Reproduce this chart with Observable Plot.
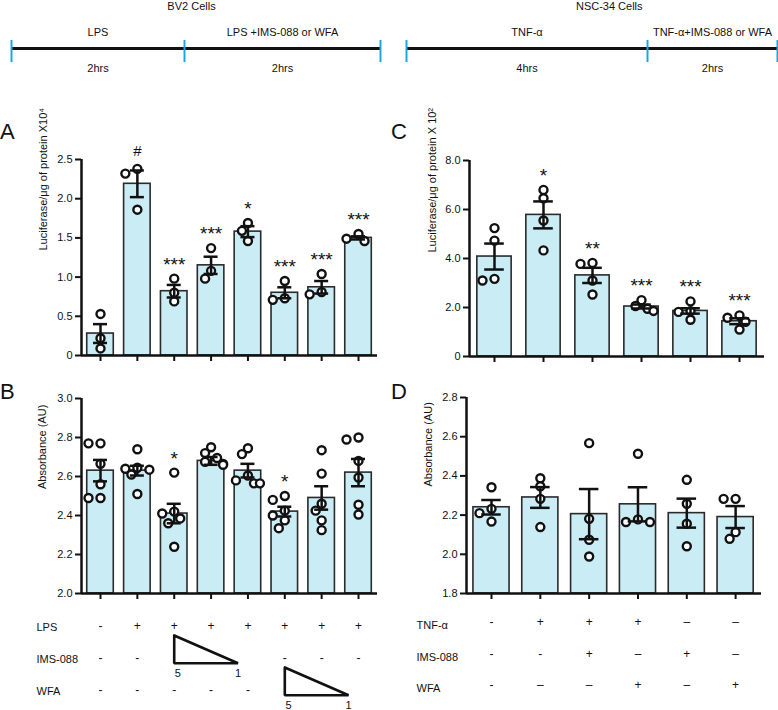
<!DOCTYPE html>
<html><head><meta charset="utf-8">
<script src="https://cdn.jsdelivr.net/npm/d3@7"></script>
<script src="https://cdn.jsdelivr.net/npm/@observablehq/plot@0.6"></script>
<style>
body{margin:0;background:#fff;font-family:"Liberation Sans",Arial,sans-serif;}
#fig{position:relative;width:778px;height:710px;overflow:hidden;background:#fff;}
.pos{position:absolute;}
.letter{position:absolute;font-size:22px;line-height:1;color:#111;font-family:"Liberation Sans",Arial,sans-serif;}
</style></head><body><div id="fig"></div>
<script>
// ---------- timelines ----------
const bv2Title = "BV2 Cells";
const bv2Phases = ["LPS", "LPS +IMS-088 or WFA"];
const bv2Hours = [2, 2];
const bv2Durations = ["2hrs", "2hrs"];
const nscTitle = "NSC-34 Cells";
const nscPhases = ["TNF-α", "TNF-α+IMS-088 or WFA"];
const nscHours = [4, 2];
const nscDurations = ["4hrs", "2hrs"];

// ---------- Panel A: BV2 luciferase (x10^4) ----------
const meanA = [0.28, 2.19, 0.82, 1.15, 1.58, 0.80, 0.87, 1.50];
const semA  = [0.12, 0.17, 0.08, 0.11, 0.07, 0.07, 0.08, 0.02];
const pointsA = [[0.53, 0.22, 0.09], [2.38, 2.32, 1.86], [0.98, 0.80, 0.69], [1.37, 1.08, 0.98],
                 [1.69, 1.59, 1.46], [0.95, 0.73, 0.71], [1.04, 0.81, 0.78], [1.55, 1.49, 1.46]];
const sigA = ["", "#", "***", "***", "*", "***", "***", "***"];
const yTicksA = [0, 0.5, 1.0, 1.5, 2.0, 2.5];
const yTickLabelsA = ["0", "0.5", "1.0", "1.5", "2.0", "2.5"];

// ---------- Panel B: BV2 absorbance ----------
const meanB = [2.63, 2.63, 2.41, 2.68, 2.63, 2.42, 2.49, 2.62];
const semB  = [0.055, 0.025, 0.05, 0.02, 0.035, 0.025, 0.06, 0.07];
const pointsB = [[2.77, 2.77, 2.665, 2.56, 2.49, 2.49], [2.74, 2.645, 2.64, 2.635, 2.61, 2.51],
                 [2.62, 2.42, 2.41, 2.385, 2.36, 2.24], [2.75, 2.72, 2.695, 2.675, 2.665, 2.66],
                 [2.745, 2.715, 2.605, 2.58, 2.565, 2.565], [2.50, 2.48, 2.425, 2.40, 2.375, 2.335],
                 [2.735, 2.615, 2.46, 2.425, 2.375, 2.325], [2.80, 2.79, 2.68, 2.595, 2.455, 2.405]];
const sigB = ["", "", "*", "", "", "*", "", ""];
const yTicksB = [2.0, 2.2, 2.4, 2.6, 2.8, 3.0];
const yTickLabelsB = ["2.0", "2.2", "2.4", "2.6", "2.8", "3.0"];

// ---------- Panel C: NSC-34 luciferase (x10^2) ----------
const meanC = [4.08, 5.78, 3.31, 2.04, 1.86, 1.44];
const semC  = [0.53, 0.55, 0.31, 0.08, 0.11, 0.12];
const pointsC = [[5.24, 4.73, 3.17, 3.10], [6.80, 6.46, 5.55, 4.33], [3.82, 3.78, 3.10, 2.53],
                 [2.30, 2.06, 1.95, 1.86], [2.25, 1.85, 1.82, 1.50], [1.68, 1.58, 1.42, 1.10]];
const sigC = ["", "*", "**", "***", "***", "***"];
const yTicksC = [0, 2, 4, 6, 8];
const yTickLabelsC = ["0", "2.0", "4.0", "6.0", "8.0"];

// ---------- Panel D: NSC-34 absorbance ----------
const meanD = [2.24, 2.29, 2.205, 2.255, 2.21, 2.19];
const semD  = [0.037, 0.053, 0.128, 0.087, 0.074, 0.056];
const pointsD = [[2.342, 2.232, 2.21, 2.167], [2.388, 2.347, 2.283, 2.139], [2.567, 2.181, 2.074, 1.989],
                 [2.513, 2.178, 2.165, 2.165], [2.38, 2.258, 2.156, 2.041], [2.283, 2.283, 2.113, 2.079]];
const sigD = ["", "", "", "", "", ""];
const yTicksD = [1.8, 2.0, 2.2, 2.4, 2.6, 2.8];
const yTickLabelsD = ["1.8", "2.0", "2.2", "2.4", "2.6", "2.8"];

// ---------- treatment tables ----------
const tableRowsB = ["LPS", "IMS-088", "WFA"];
const lpsB = ["-", "+", "+", "+", "+", "+", "+", "+"];
const imsB = ["-", "-", "", "", "", "-", "-", "-"];
const wfaB = ["-", "-", "-", "-", "-", "", "", ""];
const doseEnds = ["5", "1"];
const imsDoseColsB = [3, 5];
const wfaDoseColsB = [6, 8];

const tableRowsD = ["TNF-α", "IMS-088", "WFA"];
const tnfD = ["-", "+", "+", "+", "–", "–"];
const imsD = ["-", "-", "+", "–", "+", "–"];
const wfaD = ["-", "–", "–", "+", "–", "+"];

const yTitleLuc4 = "Luciferase/μg of protein X10⁴";
const yTitleLuc2 = "Luciferase/μg of protein X 10²";
const yTitleAbs = "Absorbance (AU)";

// ---------- styling ----------
const FONT = "Liberation Sans, Arial, Helvetica, sans-serif";
const BAR_FILL = "#c9ecf5";
const INK = "#111";
const fig = document.getElementById("fig");

function place(svg, left, top) {
  const wrap = document.createElement("div");
  wrap.className = "pos";
  wrap.style.left = left + "px";
  wrap.style.top = top + "px";
  wrap.appendChild(svg);
  fig.appendChild(wrap);
}
function letter(t, left, top) {
  const d = document.createElement("div");
  d.className = "letter";
  d.textContent = t;
  d.style.left = left + "px";
  d.style.top = top + "px";
  fig.appendChild(d);
}
const baseStyle = {background: "transparent", overflow: "visible", fontFamily: FONT, fontSize: "11px", color: INK, maxWidth: "none"};

// simple scatter-dodge so circles with similar values sit side by side
function dodgeOffsets(vals, yPx) {
  const order = vals.map((v, k) => k).sort((a, b) => vals[b] - vals[a]);
  const placed = [], offs = new Array(vals.length);
  const cands = [0, -6, 6, -12, 12];
  for (const k of order) {
    const y = -vals[k] * yPx;
    let chosen = cands[cands.length - 1];
    for (const c of cands) {
      if (placed.every(p => Math.hypot(p.x - c, p.y - y) >= 8)) { chosen = c; break; }
    }
    placed.push({x: chosen, y});
    offs[k] = chosen;
  }
  return offs;
}

function barPanel(cfg) {
  const {means, sems, points, sig, yDomain, yTicks, yTickLabels, yTitle, xLo, xHi,
         left, top, width, height, mTop, mBottom, mLeft, mRight, barHalf, capHalf, titleDx, titleDy} = cfg;
  const rows = means.map((m, i) => ({i: i + 1, mean: m, sem: sems[i], sig: sig[i],
                                     top: Math.max(m + sems[i], ...points[i])}));
  const yPx = (height - mTop - mBottom) / (yDomain[1] - yDomain[0]);
  const xPx = (width - mLeft - mRight) / (xHi - xLo);
  const pts = [];
  points.forEach((vals, gi) => {
    const offs = dodgeOffsets(vals, yPx);
    vals.forEach((v, k) => pts.push({i: gi + 1, v, off: offs[k] / xPx}));
  });
  const labelMap = new Map(yTicks.map((t, k) => [t, yTickLabels[k]]));
  const stars = rows.filter(d => d.sig && d.sig !== "#");
  const hashes = rows.filter(d => d.sig === "#");
  const svg = Plot.plot({
    width, height, marginTop: mTop, marginBottom: mBottom, marginLeft: mLeft, marginRight: mRight,
    x: {domain: [xLo, xHi]},
    y: {domain: yDomain},
    style: baseStyle,
    marks: [
      Plot.rectY(rows, {x1: d => d.i - barHalf, x2: d => d.i + barHalf, y1: yDomain[0], y2: "mean",
                        fill: BAR_FILL, stroke: "#2a2a2a", strokeWidth: 1.6}),
      Plot.dot(pts, {x: d => d.i + d.off, y: "v", r: 4, fill: "white", stroke: INK, strokeWidth: 2.4}),
      Plot.ruleX(rows, {x: "i", y1: d => d.mean - d.sem, y2: d => d.mean + d.sem, stroke: INK, strokeWidth: 2.5}),
      Plot.ruleY(rows, {y: d => d.mean + d.sem, x1: d => d.i - capHalf, x2: d => d.i + capHalf, stroke: INK, strokeWidth: 2.5}),
      Plot.ruleY(rows, {y: d => d.mean - d.sem, x1: d => d.i - capHalf, x2: d => d.i + capHalf, stroke: INK, strokeWidth: 2.5}),
      Plot.text(stars, {x: "i", y: "top", text: "sig", dy: -14, fontSize: 19, fill: INK}),
      Plot.text(hashes, {x: "i", y: "top", text: "sig", dy: -18, fontSize: 15, fill: INK}),
      Plot.ruleX([xLo], {stroke: INK, strokeWidth: 2.5}),
      Plot.ruleY([yDomain[0]], {stroke: INK, strokeWidth: 2.5}),
      Plot.axisY({ticks: yTicks, tickFormat: d => labelMap.get(d), tickSize: 6, tickPadding: 3,
                  stroke: INK, strokeWidth: 2, fill: INK, label: null, fontSize: 11}),
      Plot.axisX({ticks: rows.map(d => d.i), tickFormat: () => "", tickSize: 6, tickPadding: 0,
                  stroke: INK, strokeWidth: 2, label: null}),
      Plot.text([yTitle], {text: d => d, frameAnchor: "left", rotate: -90, dx: titleDx, dy: titleDy,
                           fontSize: 11, fill: INK})
    ]
  });
  place(svg, left, top);
}

function tablePlot(cfg) {
  const {left, top, width, height, mLeft, mRight, xLo, xHi, rowNames, rowValues, rowRange,
         labelX, labelDy, triangles} = cfg;
  const cells = [];
  rowValues.forEach((vals, r) => vals.forEach((v, c) => { if (v) cells.push({r, c: c + 1, v}); }));
  const triPts = [], triLabels = [];
  (triangles || []).forEach((t, k) => {
    const x0 = t.cols[0], x1 = t.cols[1] - 0.27, yT = t.row - 0.72, yB = t.row + 0.15;
    triPts.push({id: k, x: x0, y: yT}, {id: k, x: x0, y: yB}, {id: k, x: x1, y: yB}, {id: k, x: x0, y: yT});
    triLabels.push({x: x0 + 0.1, y: t.row + 0.48, t: t.labels[0]}, {x: x1, y: t.row + 0.48, t: t.labels[1]});
  });
  const svg = Plot.plot({
    width, height, marginLeft: mLeft, marginRight: mRight, marginTop: 0, marginBottom: 0,
    x: {domain: [xLo, xHi], axis: null},
    y: {domain: [0, rowNames.length - 1], range: rowRange, axis: null},
    style: baseStyle,
    marks: [
      Plot.text(cells, {x: "c", y: "r", text: "v", fontSize: 12, fill: INK}),
      Plot.text(rowNames, {x: xLo, y: (d, i) => i, text: d => d, textAnchor: "start",
                           dx: labelX - mLeft, dy: labelDy, fontSize: 11, fill: INK}),
      Plot.line(triPts, {x: "x", y: "y", z: "id", stroke: INK, strokeWidth: 2.6, strokeLinejoin: "miter"}),
      Plot.text(triLabels, {x: "x", y: "y", text: "t", fontSize: 11, fill: INK})
    ]
  });
  place(svg, left, top);
}

function timeline(cfg) {
  const {left, width, range, title, titleDx, phases, hours, durations} = cfg;
  const bounds = [0];
  hours.forEach(h => bounds.push(bounds[bounds.length - 1] + h));
  const mids = hours.map((h, i) => bounds[i] + h / 2);
  const svg = Plot.plot({
    width, height: 80, margin: 0,
    x: {type: "linear", domain: bounds, range, axis: null},
    y: {type: "identity", axis: null},
    style: baseStyle,
    marks: [
      Plot.ruleY([48], {x1: bounds[0], x2: bounds[bounds.length - 1], stroke: INK, strokeWidth: 3}),
      Plot.ruleX(bounds, {y1: 40, y2: 62, stroke: "#1ca6e0", strokeWidth: 2}),
      Plot.text(phases, {x: (d, i) => mids[i], y: 32, text: d => d, fontSize: 11, fill: INK}),
      Plot.text(durations, {x: (d, i) => mids[i], y: 68, text: d => d, fontSize: 11, fill: INK}),
      Plot.text([title], {x: (bounds[0] + bounds[bounds.length - 1]) / 2, y: 6, dx: titleDx, text: d => d,
                          fontSize: 11, fill: INK})
    ]
  });
  place(svg, left, 0);
}

// ---------- build ----------
timeline({left: 0, width: 389, range: [11, 184, 380], title: bv2Title, titleDx: 7,
          phases: bv2Phases, hours: bv2Hours, durations: bv2Durations});
timeline({left: 389, width: 389, range: [17, 258, 388], title: nscTitle, titleDx: 22,
          phases: nscPhases, hours: nscHours, durations: nscDurations});

barPanel({means: meanA, sems: semA, points: pointsA, sig: sigA, yDomain: [0, 2.5], yTicks: yTicksA,
          yTickLabels: yTickLabelsA, yTitle: yTitleLuc4, xLo: 0.4845, xHi: 8.515,
          left: 0, top: 120, width: 389, height: 250, mTop: 39, mBottom: 15, mLeft: 81, mRight: 12,
          barHalf: 0.36, capHalf: 0.19, titleDx: -38, titleDy: -7});
barPanel({means: meanB, sems: semB, points: pointsB, sig: sigB, yDomain: [2.0, 3.0], yTicks: yTicksB,
          yTickLabels: yTickLabelsB, yTitle: yTitleAbs, xLo: 0.4845, xHi: 8.515,
          left: 0, top: 370, width: 389, height: 240, mTop: 28, mBottom: 17, mLeft: 81, mRight: 12,
          barHalf: 0.36, capHalf: 0.19, titleDx: -39, titleDy: -7});
barPanel({means: meanC, sems: semC, points: pointsC, sig: sigC, yDomain: [0, 8], yTicks: yTicksC,
          yTickLabels: yTickLabelsC, yTitle: yTitleLuc2, xLo: 0.49, xHi: 6.51,
          left: 389, top: 120, width: 389, height: 250, mTop: 40, mBottom: 14, mLeft: 80, mRight: 14,
          barHalf: 0.35, capHalf: 0.2, titleDx: -37, titleDy: -6});
barPanel({means: meanD, sems: semD, points: pointsD, sig: sigD, yDomain: [1.8, 2.8], yTicks: yTicksD,
          yTickLabels: yTickLabelsD, yTitle: yTitleAbs, xLo: 0.488, xHi: 6.53,
          left: 389, top: 370, width: 389, height: 240, mTop: 27, mBottom: 17, mLeft: 77, mRight: 17,
          barHalf: 0.37, capHalf: 0.2, titleDx: -38, titleDy: -9});

tablePlot({left: 0, top: 600, width: 389, height: 110, mLeft: 81, mRight: 12, xLo: 0.4845, xHi: 8.515,
           rowNames: tableRowsB, rowValues: [lpsB, imsB, wfaB], rowRange: [26, 90], labelX: 36, labelDy: 1,
           triangles: [{row: 1, cols: imsDoseColsB, labels: doseEnds}, {row: 2, cols: wfaDoseColsB, labels: doseEnds}]});
tablePlot({left: 389, top: 600, width: 389, height: 110, mLeft: 77, mRight: 17, xLo: 0.488, xHi: 6.53,
           rowNames: tableRowsD, rowValues: [tnfD, imsD, wfaD], rowRange: [22, 85], labelX: 27, labelDy: 3,
           triangles: []});

letter("A", 0, 121);
letter("B", 0, 381);
letter("C", 391, 121);
letter("D", 391, 381);
</script>
</body></html>
